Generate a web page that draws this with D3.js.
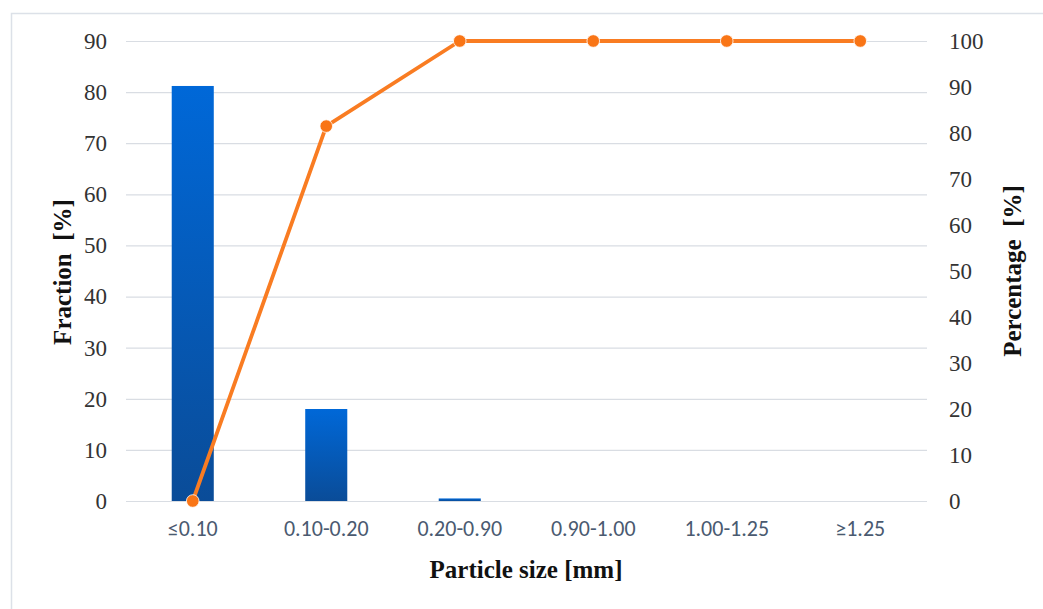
<!DOCTYPE html>
<html><head><meta charset="utf-8">
<script src="https://cdn.jsdelivr.net/npm/d3@7"></script>
<style>html,body{margin:0;padding:0;background:#fff;}svg{display:block;}
.serif{font-family:"Liberation Serif","Times New Roman",serif;}
.calib{font-family:"Carlito","Liberation Sans",sans-serif;}
</style>
</head><body>
<svg id="chart" width="1043" height="609"></svg>
<script>
const categories = ["≤0.10","0.10-0.20","0.20-0.90","0.90-1.00","1.00-1.25","≥1.25"];
const fractionValues = [81.2, 18.0, 0.5, 0, 0, 0];
const percentageValues = [0, 81.5, 100, 100, 100, 100];
const leftTicks = [0,10,20,30,40,50,60,70,80,90];
const rightTicks = [0,10,20,30,40,50,60,70,80,90,100];

const svg = d3.select("#chart");
const W = 1043, H = 609;
const m = {left:126, right:116, top:41, bottom:108};
const iw = W - m.left - m.right, ih = H - m.top - m.bottom;

svg.append("rect").attr("x",11.5).attr("y",13.5).attr("width",1040).attr("height",600)
  .attr("fill","none").attr("stroke","#dce1e8").attr("stroke-width",1.5);

const defs = svg.append("defs");
const grad = defs.append("linearGradient").attr("id","barGrad").attr("x1",0).attr("y1",0).attr("x2",0).attr("y2",1);
grad.append("stop").attr("offset","0%").attr("stop-color","#0068d8");
grad.append("stop").attr("offset","100%").attr("stop-color","#0a4c98");

const g = svg.append("g").attr("transform",`translate(${m.left},${m.top})`);
const x = d3.scaleBand().domain(categories).range([0,iw]).paddingInner(0.685).paddingOuter(0.3425);
const xc = d3.scaleBand().domain(categories).range([0,iw]);
const yL = d3.scaleLinear().domain([0,90]).range([ih,0]);
const yR = d3.scaleLinear().domain([0,100]).range([ih,0]);

// grid
g.append("g").selectAll("line").data(leftTicks).join("line")
  .attr("x1",0).attr("x2",iw).attr("y1",d=>yL(d)+0.5).attr("y2",d=>yL(d)+0.5)
  .attr("stroke","#d9dde3").attr("stroke-width",1.2);

// bars
g.append("g").selectAll("rect").data(categories).join("rect")
  .attr("x",d=>xc(d)+xc.bandwidth()/2 - x.bandwidth()/2)
  .attr("width",x.bandwidth())
  .attr("y",(d,i)=>yL(fractionValues[i]))
  .attr("height",(d,i)=>ih - yL(fractionValues[i]))
  .attr("fill","url(#barGrad)");

// axes
const axL = g.append("g").call(d3.axisLeft(yL).tickValues(leftTicks).tickSize(0).tickPadding(19));
axL.attr("font-family",null);
axL.select(".domain").remove();
axL.selectAll("text").attr("class","serif").attr("font-size",23).attr("fill","#333");

const axR = g.append("g").attr("transform",`translate(${iw},0)`)
  .call(d3.axisRight(yR).tickValues(rightTicks).tickSize(0).tickPadding(22));
axR.attr("font-family",null);
axR.select(".domain").remove();
axR.selectAll("text").attr("class","serif").attr("font-size",23).attr("fill","#333");

const axB = g.append("g").attr("transform",`translate(0,${ih})`)
  .call(d3.axisBottom(xc).tickSize(0).tickPadding(19));
axB.attr("font-family",null);
axB.select(".domain").remove();
axB.selectAll("text").attr("class","calib").attr("font-size",22).attr("fill","#4a5a70");

// line
const line = d3.line().x((d,i)=>xc(categories[i])+xc.bandwidth()/2).y(d=>yR(d));
g.append("path").datum(percentageValues).attr("d",line)
  .attr("fill","none").attr("stroke","#f97c22").attr("stroke-width",3.8).attr("stroke-linejoin","round");
g.append("g").selectAll("circle").data(percentageValues).join("circle")
  .attr("cx",(d,i)=>xc(categories[i])+xc.bandwidth()/2).attr("cy",d=>yR(d)).attr("r",6.3)
  .attr("fill","#f97516").attr("stroke","#fff").attr("stroke-width",0.8);

// titles
svg.append("text").attr("class","serif").attr("x",526).attr("y",578).attr("text-anchor","middle")
  .attr("font-weight","bold").attr("font-size",25).attr("fill","#111")
  .text("Particle size [mm]");
svg.append("text").attr("class","serif").attr("transform","translate(71,272) rotate(-90)").attr("text-anchor","middle")
  .attr("font-weight","bold").attr("font-size",25).attr("fill","#111")
  .attr("xml:space","preserve").text("Fraction  [%]");
svg.append("text").attr("class","serif").attr("transform","translate(1021,271) rotate(-90)").attr("text-anchor","middle")
  .attr("font-weight","bold").attr("font-size",25).attr("fill","#111")
  .attr("xml:space","preserve").text("Percentage  [%]");
</script>
</body></html>
